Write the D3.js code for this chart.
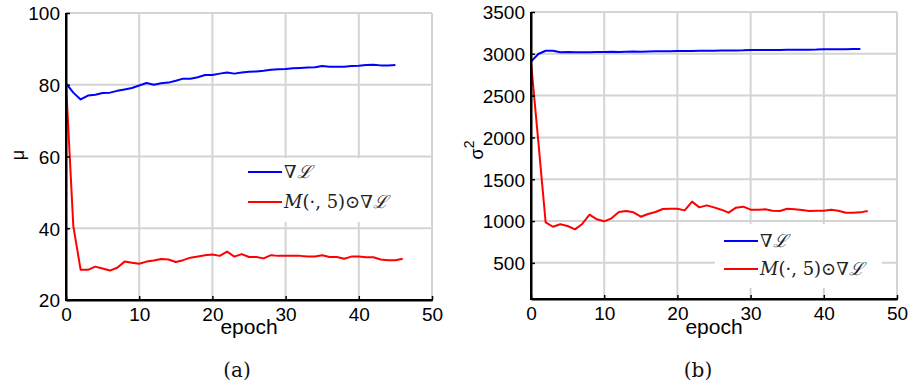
<!DOCTYPE html>
<html><head><meta charset="utf-8">
<script src="https://cdn.jsdelivr.net/npm/d3@7"></script>
<style>
html,body{margin:0;padding:0;background:#fff;}
svg{display:block;}
</style></head>
<body>
<svg id="chart" width="912" height="386"></svg>
<script>
// ---- data ----
const epochsBlue = d3.range(0, 46);   // 0..45
const epochsRed  = d3.range(0, 47);   // 0..46

const muGrad = [80.4,77.8,75.9,77.0,77.2,77.7,77.8,78.3,78.7,79.1,79.8,80.5,80.0,80.4,80.6,81.1,81.7,81.7,82.1,82.7,82.7,83.1,83.4,83.1,83.4,83.6,83.7,83.9,84.2,84.3,84.4,84.6,84.7,84.8,84.9,85.2,85.0,85.0,85.0,85.2,85.3,85.5,85.6,85.4,85.4,85.5];
const muMasked = [80.4,40.6,28.4,28.4,29.3,28.8,28.2,29.0,30.7,30.4,30.1,30.7,31.0,31.4,31.3,30.6,31.1,31.8,32.1,32.5,32.7,32.3,33.5,32.1,32.8,32.0,32.0,31.6,32.5,32.3,32.3,32.3,32.3,32.1,32.1,32.5,32.0,32.0,31.5,32.1,32.1,31.9,31.9,31.3,31.1,31.1,31.5];

const sigGrad = [2906,2998,3037,3037,3018,3022,3018,3020,3020,3021,3022,3024,3022,3025,3027,3026,3029,3031,3030,3032,3034,3033,3035,3036,3036,3038,3039,3040,3041,3042,3046,3045,3046,3047,3047,3048,3049,3050,3050,3051,3054,3054,3055,3056,3057,3058];
const sigMasked = [2900,1950,985,932,961,941,901,965,1076,1021,997,1033,1108,1120,1105,1052,1084,1108,1144,1148,1148,1128,1232,1164,1188,1164,1136,1100,1160,1172,1136,1136,1140,1124,1120,1148,1140,1132,1120,1124,1124,1136,1124,1100,1100,1104,1120];

const xTicks = [0,10,20,30,40,50];
const muTicks = [20,40,60,80,100];
const sigTicks = [500,1000,1500,2000,2500,3000,3500];
const legendLabels = ["grad", "masked"];
const captions = ["(a)", "(b)"];

const BLUE = "#0000ff", RED = "#ff0000", GRID = "#d4d4d4";
const SANS = "Liberation Sans, Arial, Helvetica, sans-serif";
const SERIF = "DejaVu Serif, Liberation Serif, serif";

const svg = d3.select("#chart");

function panel(cfg){
  const g = svg.append("g");
  const x = d3.scaleLinear().domain([0,50]).range([cfg.x0, cfg.x1]);
  const y = d3.scaleLinear().domain(cfg.yDomain).range([cfg.yBottom, cfg.yTop]);

  // grid
  g.append("g").selectAll("line").data(xTicks.filter(t=>t>0)).join("line")
    .attr("x1", d=>x(d)).attr("x2", d=>x(d)).attr("y1", cfg.yTop).attr("y2", cfg.yBottom)
    .attr("stroke", GRID).attr("stroke-width", 2);
  g.append("g").selectAll("line").data(cfg.yTicks.filter(t=>y(t) < cfg.yBottom-1)).join("line")
    .attr("x1", cfg.x0).attr("x2", cfg.x1).attr("y1", d=>y(d)).attr("y2", d=>y(d))
    .attr("stroke", GRID).attr("stroke-width", 2);

  // lines
  const line = (xs) => d3.line().x((d,i)=>x(xs[i])).y(d=>y(d));
  g.append("path").datum(cfg.blue).attr("d", line(epochsBlue))
    .attr("fill","none").attr("stroke",BLUE).attr("stroke-width",2).attr("stroke-linejoin","round");
  g.append("path").datum(cfg.red).attr("d", line(epochsRed))
    .attr("fill","none").attr("stroke",RED).attr("stroke-width",2).attr("stroke-linejoin","round");

  // axes
  const ax = g.append("g").attr("transform", `translate(0,${cfg.yBottom})`)
    .call(d3.axisBottom(x).tickValues(xTicks).tickFormat(d3.format("d")).tickSize(-4).tickSizeOuter(0).tickPadding(8));
  const ay = g.append("g").attr("transform", `translate(${cfg.x0},0)`)
    .call(d3.axisLeft(y).tickValues(cfg.yTicks).tickFormat(d3.format("d")).tickSize(-4).tickSizeOuter(0).tickPadding(6));
  [ax, ay].forEach(a => {
    a.attr("font-family", SANS).attr("font-size", 19);
    a.select(".domain").attr("stroke","#000").attr("stroke-width",2);
    a.selectAll(".tick line").attr("stroke","#000").attr("stroke-width",1.5);
    a.selectAll(".tick text").attr("fill","#000").attr("font-family", SANS).attr("font-size", 19);
  });
  ay.selectAll(".tick text").attr("dy","0.36em");
  g.append("line").attr("x1",cfg.x0).attr("x2",cfg.x0).attr("y1",cfg.yTop).attr("y2",cfg.yBottom+1)
    .attr("stroke","#000").attr("stroke-width",2);
  g.append("line").attr("x1",cfg.x0-1).attr("x2",cfg.x1+1).attr("y1",cfg.yBottom).attr("y2",cfg.yBottom)
    .attr("stroke","#000").attr("stroke-width",2);

  // labels
  g.append("text").attr("x", (cfg.x0+cfg.x1)/2).attr("y", 334)
    .attr("text-anchor","middle").attr("font-family",SANS)
    .attr("font-size",21).attr("fill","#000").text("epoch");
  const yl = g.append("text").attr("transform", `translate(${cfg.ylx},${cfg.yly}) rotate(-90)`)
    .attr("text-anchor","middle").attr("dominant-baseline","central")
    .attr("font-family",SANS).attr("font-size",18).attr("fill","#000");
  yl.append("tspan").text(cfg.ylab);
  if (cfg.ysup) yl.append("tspan").attr("font-size",14).attr("dy","-0.55em").text(cfg.ysup);

  g.append("text").attr("x", cfg.capX).attr("y", 377).attr("text-anchor","middle")
    .attr("font-family",SERIF).attr("font-size",20).attr("fill","#111")
    .text(cfg.caption);

  // legend
  const L = cfg.legend;
  g.append("rect").attr("x",L.bx).attr("y",L.by).attr("width",L.bw).attr("height",L.bh).attr("fill","#fff");
  [[BLUE, L.y1, legendLabels[0]],[RED, L.y2, legendLabels[1]]].forEach(([c,ly,lab])=>{
    g.append("line").attr("x1",L.lx).attr("x2",L.lx+34).attr("y1",ly).attr("y2",ly)
      .attr("stroke",c).attr("stroke-width",2);
    const t = g.append("text").attr("x",L.lx+36).attr("y",ly+6)
      .attr("font-family",SERIF).attr("font-size",18).attr("fill","#222");
    if (lab === "grad") {
      t.append("tspan").text("\u2207");
      t.append("tspan").attr("font-style","italic").text("\u2112");
    } else {
      t.append("tspan").attr("font-style","italic").text("M");
      t.append("tspan").text("(\u00b7, 5)\u2299\u2207");
      t.append("tspan").attr("font-style","italic").text("\u2112");
    }
  });
}

panel({x0:66, x1:432, yTop:13, yBottom:300, yDomain:[20,100], yTicks:muTicks,
  blue:muGrad, red:muMasked, ylab:"\u03bc", ylx:18, yly:155, caption:captions[0], capX:237,
  legend:{bx:240,by:158,bw:175,bh:64,lx:248,y1:172,y2:202}});
panel({x0:531, x1:897, yTop:12, yBottom:299, yDomain:[68,3500], yTicks:sigTicks,
  blue:sigGrad, red:sigMasked, ylab:"\u03c3", ysup:"2", ylx:477, yly:150, caption:captions[1], capX:698,
  legend:{bx:715,by:224,bw:167,bh:64,lx:724,y1:241,y2:269}});
</script>
</body></html>
